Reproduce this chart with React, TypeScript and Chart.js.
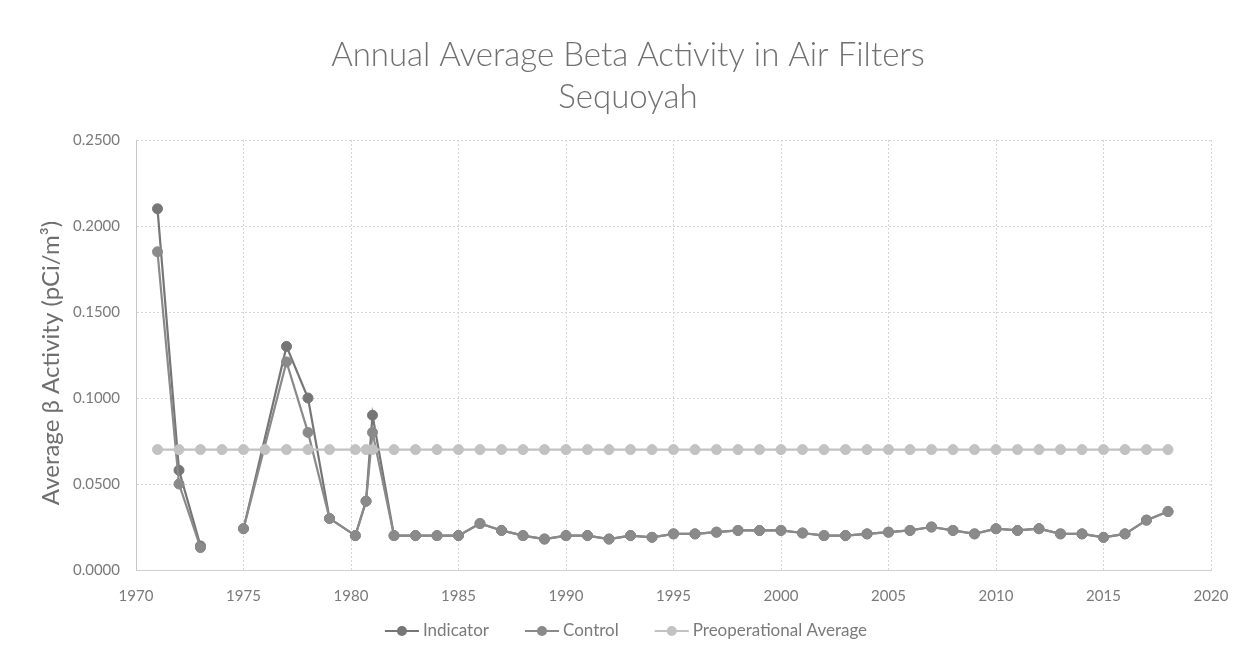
import { useEffect, useRef } from "react";
import { Chart, registerables } from "chart.js";

Chart.register(...registerables);

const chartTitle = ["Annual Average Beta Activity in Air Filters", "Sequoyah"];
const yAxisTitle = "Average β Activity (pCi/m³)";
const seriesNames = ["Indicator", "Control", "Preoperational Average"];

// Monitoring years (1974 has no data -> gap in the line)
const monitorYears = [
  1971, 1972, 1973, 1974, 1975, 1977, 1978, 1979, 1980.2, 1980.7, 1981,
  1982, 1983, 1984, 1985, 1986, 1987, 1988, 1989, 1990, 1991, 1992, 1993,
  1994, 1995, 1996, 1997, 1998, 1999, 2000, 2001, 2002, 2003, 2004, 2005,
  2006, 2007, 2008, 2009, 2010, 2011, 2012, 2013, 2014, 2015, 2016, 2017, 2018,
];

const indicatorValues = [
  0.210, 0.058, 0.014, null, 0.024, 0.130, 0.100, 0.030, 0.020, 0.040, 0.090,
  0.020, 0.020, 0.020, 0.020, 0.027, 0.023, 0.020, 0.018, 0.020, 0.020, 0.018, 0.020,
  0.019, 0.021, 0.021, 0.022, 0.023, 0.023, 0.023, 0.0215, 0.020, 0.020, 0.021, 0.022,
  0.023, 0.025, 0.023, 0.021, 0.024, 0.023, 0.024, 0.021, 0.021, 0.019, 0.021, 0.029, 0.034,
];

const controlValues = [
  0.185, 0.050, 0.013, null, 0.024, 0.121, 0.080, 0.030, 0.020, 0.040, 0.080,
  0.020, 0.020, 0.020, 0.020, 0.027, 0.023, 0.020, 0.018, 0.020, 0.020, 0.018, 0.020,
  0.019, 0.021, 0.021, 0.022, 0.023, 0.023, 0.023, 0.0215, 0.020, 0.020, 0.021, 0.022,
  0.023, 0.025, 0.023, 0.021, 0.024, 0.023, 0.024, 0.021, 0.021, 0.019, 0.021, 0.029, 0.034,
];

const preopYears = [
  1971, 1972, 1973, 1974, 1975, 1976, 1977, 1978, 1979, 1980.2, 1980.7, 1981,
  1982, 1983, 1984, 1985, 1986, 1987, 1988, 1989, 1990, 1991, 1992, 1993,
  1994, 1995, 1996, 1997, 1998, 1999, 2000, 2001, 2002, 2003, 2004, 2005,
  2006, 2007, 2008, 2009, 2010, 2011, 2012, 2013, 2014, 2015, 2016, 2017, 2018,
];

const preopValues = [
  0.07, 0.07, 0.07, 0.07, 0.07, 0.07, 0.07, 0.07, 0.07, 0.07, 0.07, 0.07,
  0.07, 0.07, 0.07, 0.07, 0.07, 0.07, 0.07, 0.07, 0.07, 0.07, 0.07, 0.07,
  0.07, 0.07, 0.07, 0.07, 0.07, 0.07, 0.07, 0.07, 0.07, 0.07, 0.07, 0.07,
  0.07, 0.07, 0.07, 0.07, 0.07, 0.07, 0.07, 0.07, 0.07, 0.07, 0.07, 0.07, 0.07,
];

const xMin = 1970;
const xMax = 2020;
const xStep = 5;
const yMin = 0;
const yMax = 0.25;
const yStep = 0.05;

const COLORS = ["#767676", "#8a8a8a", "#c2c2c2"];
const FONT = "Lato, 'Open Sans', sans-serif";

const pairs = (xs: number[], ys: (number | null)[]) =>
  xs.map((x, i) => ({ x, y: ys[i] }));

const textPlugin = {
  id: "customText",
  afterDraw(chart: any) {
    const ctx = chart.ctx;
    ctx.save();
    // Title
    ctx.fillStyle = "#707070";
    ctx.font = `300 33px ${FONT}`;
    ctx.textAlign = "center";
    ctx.textBaseline = "middle";
    ctx.fillText(chartTitle[0], 628, 55);
    ctx.fillText(chartTitle[1], 628, 97);
    // Y axis title
    ctx.save();
    ctx.translate(51, 363);
    ctx.rotate(-Math.PI / 2);
    ctx.fillStyle = "#6e6e6e";
    ctx.font = `24px ${FONT}`;
    ctx.fillText(yAxisTitle, 0, 0);
    ctx.restore();
    // Legend
    ctx.font = `17px ${FONT}`;
    ctx.textBaseline = "middle";
    const symW = 34;
    const gap = 4;
    const itemGap = 36;
    const widths = seriesNames.map((n) => symW + gap + ctx.measureText(n).width);
    const total = widths.reduce((a, b) => a + b, 0) + itemGap * (seriesNames.length - 1);
    let x = 626 - total / 2;
    const y = 631;
    seriesNames.forEach((name, i) => {
      ctx.strokeStyle = COLORS[i];
      ctx.lineWidth = 2;
      ctx.beginPath();
      ctx.moveTo(x, y);
      ctx.lineTo(x + symW, y);
      ctx.stroke();
      ctx.fillStyle = COLORS[i];
      ctx.beginPath();
      ctx.arc(x + symW / 2, y, 5, 0, Math.PI * 2);
      ctx.fill();
      ctx.fillStyle = "#7a7a7a";
      ctx.textAlign = "left";
      ctx.fillText(name, x + symW + gap, y);
      x += widths[i] + itemGap;
    });
    ctx.restore();
  },
};

export default function App() {
  const canvasRef = useRef<HTMLCanvasElement | null>(null);

  useEffect(() => {
    if (!canvasRef.current) return;
    const mk = (i: number, data: any[]) => ({
      label: seriesNames[i],
      data,
      borderColor: COLORS[i],
      backgroundColor: COLORS[i],
      pointBackgroundColor: COLORS[i],
      pointBorderColor: COLORS[i],
      borderWidth: 2.2,
      pointRadius: 5,
      pointBorderWidth: 1,
      spanGaps: false,
      tension: 0,
    });
    const chart = new Chart(canvasRef.current, {
      type: "line",
      data: {
        datasets: [
          mk(2, pairs(preopYears, preopValues)),
          mk(1, pairs(monitorYears, controlValues)),
          mk(0, pairs(monitorYears, indicatorValues)),
        ],
      },
      options: {
        responsive: false,
        animation: false,
        events: [],
        layout: { padding: { top: 140, right: 26, bottom: 0, left: 0 } },
        plugins: {
          legend: { display: false },
          title: { display: false },
          tooltip: { enabled: false },
        },
        scales: {
          x: {
            type: "linear",
            min: xMin,
            max: xMax,
            ticks: {
              stepSize: xStep,
              padding: 17,
              color: "#7a7a7a",
              font: { family: FONT, size: 15 },
              callback: (v: any) => String(v),
            },
            grid: { color: "#d6d6d6", lineWidth: 1, drawTicks: false },
            border: { display: true, color: "#cfcfcf", dash: [2, 2] },
            afterFit: (s: any) => {
              s.height = 86;
              s.paddingLeft = 0;
              s.paddingRight = 0;
            },
          },
          y: {
            type: "linear",
            min: yMin,
            max: yMax,
            ticks: {
              stepSize: yStep,
              padding: 16,
              color: "#7a7a7a",
              font: { family: FONT, size: 15 },
              callback: (v: any) => Number(v).toFixed(4),
            },
            grid: { color: "#d6d6d6", lineWidth: 1, drawTicks: false },
            border: { display: true, color: "#c8c8c8", dash: [2, 2] },
            afterFit: (s: any) => {
              s.width = 136;
            },
          },
        },
      },
      plugins: [textPlugin],
    });
    return () => chart.destroy();
  }, []);

  return (
    <div style={{ position: "absolute", left: 0, top: 0, width: 1237, height: 656, background: "#fff" }}>
      <canvas ref={canvasRef} width={1237} height={656} style={{ display: "block" }} />
    </div>
  );
}
